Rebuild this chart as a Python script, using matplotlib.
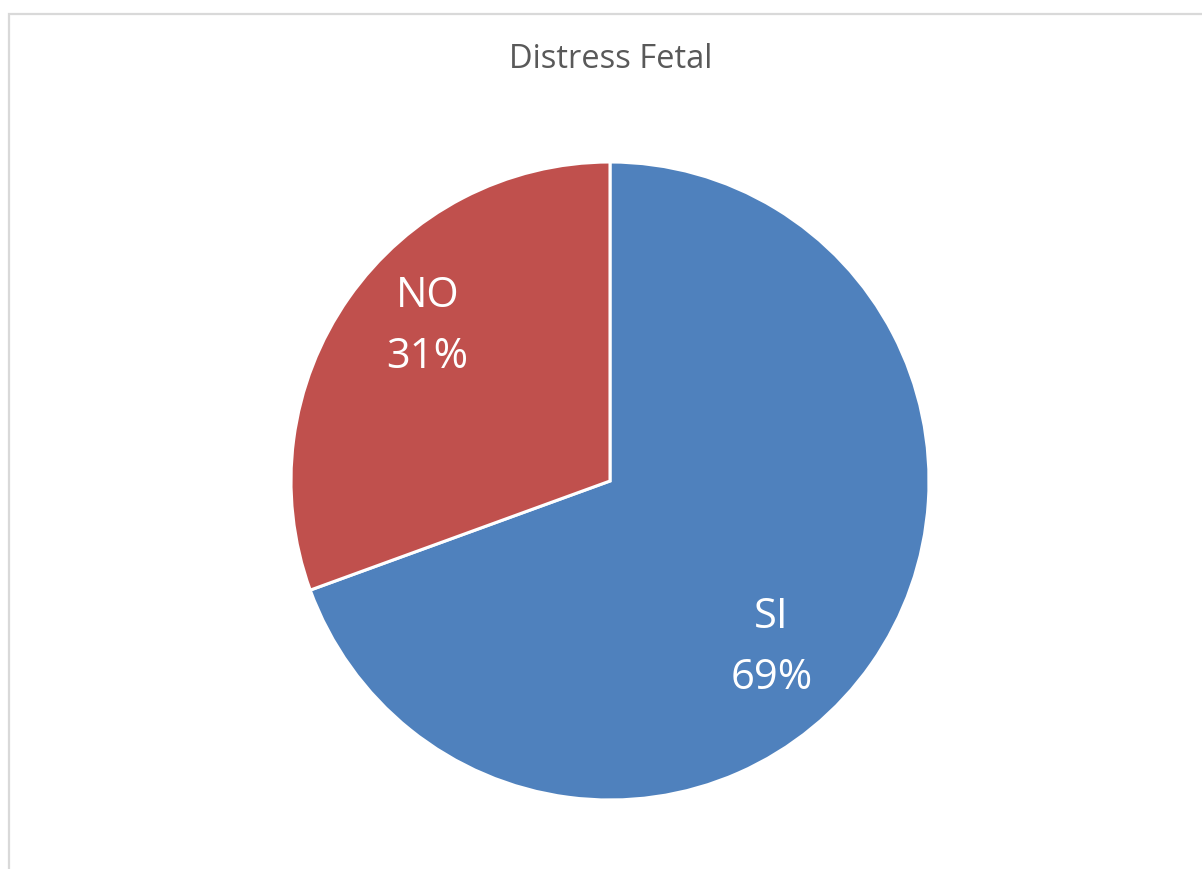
import matplotlib
matplotlib.use("Agg")
import matplotlib.pyplot as plt
from matplotlib.patches import Rectangle

# data
labels = ["SI", "NO"]
counts = [25, 11]
colors = ["#4F81BD", "#C0504D"]

plt.rcParams['font.family'] = ['Open Sans', 'DejaVu Sans']

fig = plt.figure(figsize=(12.02, 8.69), dpi=100)

# light grey chart frame (Excel style)
fig.patches.append(Rectangle((9 / 1202, -0.05), 1.1, 1 - 14 / 869 + 0.05,
                             transform=fig.transFigure, fill=False,
                             edgecolor="#D9D9D9", linewidth=1.6))

# pie centred at (610, 481) px, radius ~319 px
cx, cy, r = 610, 869 - 481, 319
ax = fig.add_axes([(cx - r) / 1202, (cy - r) / 869, 2 * r / 1202, 2 * r / 869])
wedges, _ = ax.pie(counts, colors=colors, startangle=90, counterclock=False,
                   wedgeprops=dict(edgecolor="white", linewidth=2.2))
ax.set_xlim(-1, 1)
ax.set_ylim(-1, 1)
ax.set_aspect("equal")
ax.axis("off")

# data labels (category + percentage)
total = sum(counts)
label_pos = [(0.506, -0.522), (-0.572, 0.484)]
for lab, c, (x, y) in zip(labels, counts, label_pos):
    ax.text(x, y, f"{lab}\n{100 * c / total:.0f}%", ha="center", va="center",
            color="white", fontsize=30, linespacing=1.6)

fig.text(611 / 1202, 1 - 59 / 869, "Distress Fetal", ha="center", va="center",
         color="#595959", fontsize=23.5)

fig.savefig("out.png", dpi=100)
